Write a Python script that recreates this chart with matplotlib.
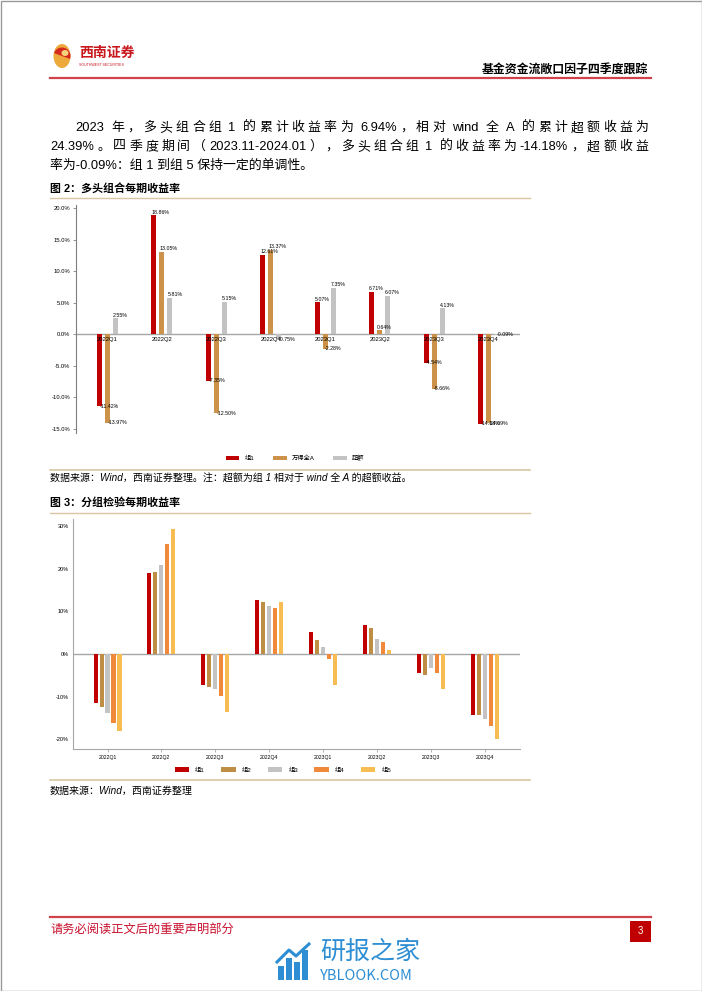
import numpy as np
import matplotlib
matplotlib.use('Agg')
import matplotlib.pyplot as plt
from matplotlib.patches import Rectangle, Ellipse, Wedge

plt.rcParams['font.family'] = ['Liberation Sans', 'Noto Sans CJK SC', 'DejaVu Sans']
plt.rcParams['axes.unicode_minus'] = False

# datos
quarters = ['2022Q1', '2022Q2', '2022Q3', '2022Q4', '2023Q1', '2023Q2', '2023Q3', '2023Q4']
g1_ret = [-11.42, 18.86, -7.35, 12.61, 5.07, 6.71, -4.54, -14.18]
winda_ret = [-13.97, 13.05, -12.50, 13.37, -2.28, 0.64, -8.66, -14.09]
excess_ret = [2.55, 5.81, 5.15, -0.75, 7.35, 6.07, 4.13, -0.09]
names1 = ['组1', '万得全A', '超额']

grp1 = [-11.42, 18.86, -7.35, 12.61, 5.07, 6.71, -4.54, -14.18]
grp2 = [-12.5, 19.1, -7.7, 12.2, 3.3, 6.1, -5.0, -14.4]
grp3 = [-13.9, 20.9, -8.3, 11.2, 1.6, 3.6, -3.4, -15.2]
grp4 = [-16.2, 25.8, -9.8, 10.7, -1.2, 2.7, -4.5, -16.9]
grp5 = [-18.0, 29.3, -13.6, 12.1, -7.3, 0.9, -8.1, -20.0]
names2 = ['组1', '组2', '组3', '组4', '组5']

col1 = ['#C00000', '#CC9249', '#C3C3C3']
col2 = ['#C00000', '#BE8E45', '#C3C3C3', '#F0893A', '#F8BD52']

RED = '#C8102E'
BEIGE = '#D9C6A2'

W, H = 702, 991
fig = plt.figure(figsize=(W / 100, H / 100), dpi=100)
fig.patch.set_facecolor('white')
renderer = fig.canvas.get_renderer()


def rect(x0, y0, x1, y1):
    return [x0 / W, 1 - y1 / H, (x1 - x0) / W, (y1 - y0) / H]


# capa de pagina en pixeles
pg = fig.add_axes([0, 0, 1, 1])
pg.set_xlim(0, W)
pg.set_ylim(H, 0)
pg.axis('off')


def tokens(s):
    # (texto, espacios detras)
    out = []
    buf = ''
    for ch in s:
        if ch == ' ':
            if buf:
                out.append([buf, 0])
                buf = ''
            if out:
                out[-1][1] += 1
        elif ord(ch) < 128:
            buf += ch
        else:
            if buf:
                out.append([buf, 0])
                buf = ''
            out.append([ch, 0])
    if buf:
        out.append([buf, 0])
    return out


def justified(x0, x1, y, s, fs):
    tk = tokens(s)
    sp = fs * 100 / 72 * 0.3
    ws = []
    for t, n in tk:
        tt = pg.text(0, 0, t, fontsize=fs)
        ws.append(tt.get_window_extent(renderer).width + n * sp)
        tt.remove()
    gap = (x1 - x0 - sum(ws)) / (len(tk) - 1)
    xp = x0
    for (t, n), w in zip(tk, ws):
        pg.text(xp, y, t, fontsize=fs, va='center')
        xp += w + gap


pg.add_patch(Rectangle((0.5, 0.5), W - 1, H - 1, fill=False, ec='#9A9A9A', lw=1))

# logo
pg.add_patch(Ellipse((62, 56), 17, 24, fc='#EDA93A', ec='none'))
pg.add_patch(Wedge((62, 56), 8.5, 200, 20, fc='#D42A1E', ec='none'))
pg.add_patch(Ellipse((65, 53), 7, 6, fc='#F6D27A', ec='none'))
pg.text(79, 53, '西南证券', color='#C8161D', fontsize=10, fontweight='bold', va='center')
pg.text(79, 65, 'SOUTHWEST SECURITIES', color='#C8161D', fontsize=2.6, va='center')

pg.text(648, 70, '基金资金流敞口因子四季度跟踪', fontsize=8.6, fontweight='bold', ha='right', va='center')
pg.plot([50, 651], [78, 78], color='#D0434A', lw=1.6)

# cuerpo de texto
justified(75, 648, 128, '2023 年，多头组合组 1 的累计收益率为 6.94%，相对 wind 全 A 的累计超额收益为', 9.3)
justified(50, 648, 147, '24.39%。四季度期间（2023.11-2024.01），多头组合组 1 的收益率为-14.18%，超额收益', 9.3)
pg.text(50, 166, '率为-0.09%：组 1 到组 5 保持一定的单调性。', fontsize=9.3, va='center')

pg.text(50, 188, '图 2：多头组合每期收益率', fontsize=7.9, fontweight='bold', va='center')
pg.plot([50, 530], [198, 198], color=BEIGE, lw=1)
pg.plot([50, 530], [470, 470], color=BEIGE, lw=1.2)
pg.text(50, 478, '数据来源：Wind，西南证券整理。注：超额为组 1 相对于 wind 全 A 的超额收益。',
        fontsize=7.2, style='italic', va='center')

pg.text(50, 502, '图 3：分组检验每期收益率', fontsize=7.9, fontweight='bold', va='center')
pg.plot([50, 530], [513, 513], color=BEIGE, lw=1)
pg.plot([50, 530], [780, 780], color=BEIGE, lw=1.2)
pg.text(50, 791, '数据来源：Wind，西南证券整理', fontsize=7.2, style='italic', va='center')

# pie de pagina
pg.plot([50, 651], [917, 917], color='#D0434A', lw=1.6)
pg.text(50, 930, '请务必阅读正文后的重要声明部分', fontsize=8.8, color=RED, va='center')
pg.add_patch(Rectangle((630, 921), 21, 21, fc='#C00000', ec='none'))
pg.text(640.5, 931.5, '3', color='white', fontsize=7, ha='center', va='center')

# marca de agua
BLUE = '#2E8ED3'
for bx, bh in zip([278, 286, 294, 302], [14, 22, 18, 30]):
    pg.add_patch(Rectangle((bx, 980 - bh), 6, bh, fc=BLUE, ec='none'))
pg.plot([277, 289, 296, 309], [962, 950, 956, 944], color=BLUE, lw=2.2)
pg.text(320, 952, '研报之家', fontsize=18, color=BLUE, va='center', family=['Noto Sans CJK SC'])
pg.text(320, 976, 'YBLOOK.COM', fontsize=10.5, color=BLUE, va='center', family=['Noto Sans CJK SC'])

# grafico 1
ax1 = fig.add_axes(rect(76, 205, 520, 433))
x = np.arange(len(quarters))
bw1 = 0.092
off1 = [-0.147, 0, 0.147]
series1 = [g1_ret, winda_ret, excess_ret]
for k in range(3):
    bars = ax1.bar(x + off1[k], series1[k], width=bw1, color=col1[k], label=names1[k], zorder=2)
    for b, v in zip(bars, series1[k]):
        if v >= 0:
            ax1.text(b.get_x(), v + 0.1, '%.2f%%' % v, fontsize=3.8, ha='left', va='bottom')
        else:
            ax1.text(b.get_x() + b.get_width() / 2, v, '%.2f%%' % v, fontsize=3.8, ha='left', va='center')
ax1.axhline(0, color='#A6A6A6', lw=1, zorder=1)
for i, q in enumerate(quarters):
    ax1.text(i, -0.5, q, fontsize=4.2, ha='center', va='top', zorder=3)
ax1.set_xlim(-0.58, 7.58)
ax1.set_ylim(-15.63, 20.48)
ax1.set_yticks(np.arange(-15, 21, 5))
ax1.set_yticklabels(['%.1f%%' % t for t in np.arange(-15, 21, 5)], fontsize=4.2)
ax1.set_xticks([])
for s in ['top', 'right', 'bottom']:
    ax1.spines[s].set_visible(False)
ax1.spines['left'].set_color('#7F7F7F')
ax1.spines['left'].set_linewidth(0.8)
ax1.tick_params(axis='y', length=2, width=0.6, color='#7F7F7F', pad=2)
ax1.patch.set_alpha(0)
ax1.legend(loc='center', bbox_to_anchor=(295 / W, 1 - 458 / H), bbox_transform=fig.transFigure,
           ncol=3, frameon=False, fontsize=4.5, handlelength=2.2, handleheight=0.6,
           columnspacing=3.0, handletextpad=0.8)

# grafico 2
ax2 = fig.add_axes(rect(73, 519, 520, 749))
bw2 = 0.075
series2 = [grp1, grp2, grp3, grp4, grp5]
for k in range(5):
    ax2.bar(x + (k - 2) * 0.111, series2[k], width=bw2, color=col2[k], label=names2[k], zorder=2)
ax2.axhline(0, color='#A6A6A6', lw=1, zorder=1)
ax2.set_xlim(-0.64, 7.65)
ax2.set_ylim(-22.25, 31.6)
ax2.set_yticks([-20, -10, 0, 10, 20, 30])
ax2.set_yticklabels(['%d%%' % t for t in [-20, -10, 0, 10, 20, 30]], fontsize=4)
ax2.set_xticks(x)
ax2.set_xticklabels(quarters, fontsize=3.7)
for s in ['top', 'right']:
    ax2.spines[s].set_visible(False)
for s in ['left', 'bottom']:
    ax2.spines[s].set_color('#A6A6A6')
    ax2.spines[s].set_linewidth(0.8)
ax2.tick_params(axis='y', length=0, pad=3)
ax2.tick_params(axis='x', length=2, width=0.6, color='#A6A6A6', pad=2)
ax2.patch.set_alpha(0)
ax2.legend(loc='center', bbox_to_anchor=(283 / W, 1 - 770 / H), bbox_transform=fig.transFigure,
           ncol=5, frameon=False, fontsize=4.5, handlelength=2.3, handleheight=0.7,
           columnspacing=2.6, handletextpad=1.0)

fig.savefig('out.png', dpi=100)
